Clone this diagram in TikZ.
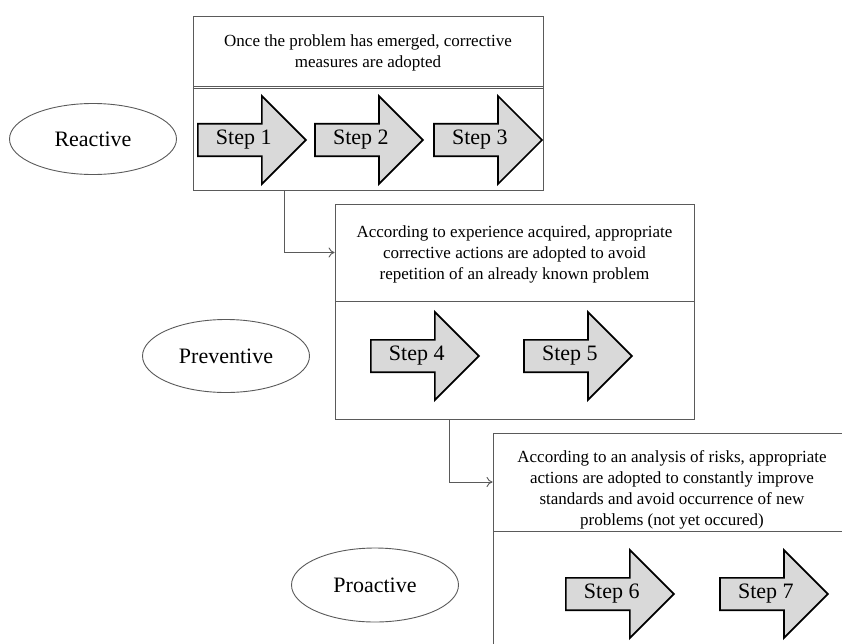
\documentclass[tikz,border=0pt]{standalone}
\usepackage{fontspec}
\setmainfont{Liberation Serif}
\usetikzlibrary{positioning,shapes.arrows,shapes.geometric,arrows.meta}
\definecolor{lineg}{HTML}{5A5A5A}
\definecolor{stepfill}{HTML}{D9D9D9}
\tikzset{
  box/.style={draw=lineg,line width=0.9pt,inner sep=0pt},
  boxtext/.style={align=center,inner sep=0pt,font=\fontsize{17}{21}\selectfont},
  stage/.style={ellipse,draw=lineg,line width=0.9pt,minimum width=167pt,
    font=\fontsize{22}{24}\selectfont},
  steparrow/.style={single arrow,draw=black,line width=1.7pt,fill=stepfill,
    minimum height=108pt,minimum width=88pt,single arrow head extend=21.5pt,
    inner sep=2pt,anchor=tail,font=\fontsize{22}{24}\selectfont},
  link/.style={->,draw=lineg,line width=0.9pt}
}
\begin{document}
\begin{tikzpicture}[x=1pt,y=-1pt,>={To[length=6pt,width=10pt]}]
\useasboundingbox (0,0) rectangle (842,643);
\clip (0,0) rectangle (842,643);
% reactive
\node[box,minimum width=350pt,minimum height=70pt] (head1) at (368,51) {};
\node[boxtext] (txt1) at ([yshift=-2pt]head1.center)
  {Once the problem has emerged, corrective\\measures are adopted};
\node[box,minimum width=350pt,minimum height=104pt] (body1) at (368,138) {};
\draw[draw=lineg,line width=0.9pt] ([yshift=-3pt]body1.north west) -- ([yshift=-3pt]body1.north east);
\node[steparrow] (s1) at (197,140) {Step 1};
\node[steparrow] (s2) at ([xshift=7pt]s1.tip) {Step 2};
\node[steparrow] (s3) at ([xshift=9pt]s2.tip) {Step 3};
\node[stage,minimum height=71pt] (reactive) at (93,139) {Reactive};
% preventive
\node[box,minimum width=359pt,minimum height=97pt] (head2) at (514.5,252.5) {};
\node[boxtext] (txt2) at ([yshift=-2pt]head2.center)
  {According to experience acquired, appropriate\\corrective actions are adopted to avoid\\repetition of an already known problem};
\node[box,minimum width=359pt,minimum height=118pt] (body2) at (514.5,360) {};
\node[steparrow] (s4) at (370,356) {Step 4};
\node[steparrow] (s5) at ([xshift=43pt]s4.tip) {Step 5};
\node[stage,minimum height=73pt] (preventive) at (226,356) {Preventive};
% proactive
\node[box,minimum width=358pt,minimum height=98pt] (head3) at (672,482) {};
\node[boxtext] (txt3) at ([yshift=-8pt]head3.center)
  {According to an analysis of risks, appropriate\\actions are adopted to constantly improve\\standards and avoid occurrence of new\\problems (not yet occured)};
\node[box,minimum width=358pt,minimum height=150pt] (body3) at (672,606) {};
\node[steparrow] (s6) at (565,594) {Step 6};
\node[steparrow] (s7) at ([xshift=44pt]s6.tip) {Step 7};
\node[stage,minimum height=74pt] (proactive) at (375,585) {Proactive};
% links between levels
\draw[link] ([xshift=92pt]body1.south west) |- (head2.west);
\draw[link] ([xshift=115pt]body2.south west) |- (head3.west);
\end{tikzpicture}
\end{document}
